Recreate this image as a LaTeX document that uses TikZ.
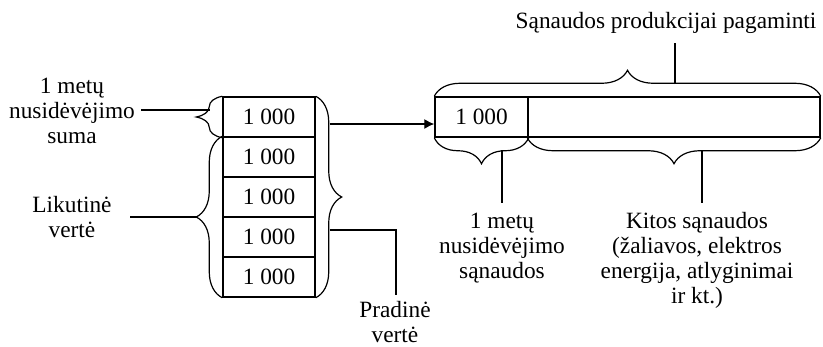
\documentclass[tikz,border=0pt]{standalone}
\usepackage{fontspec}
\setmainfont{Liberation Serif}
\usetikzlibrary{decorations.pathreplacing,arrows.meta}
\begin{document}
\begin{tikzpicture}[x=0.75pt,y=-0.75pt,line width=0.9pt,
  txt/.style={font=\fontsize{17.5}{18.75}\selectfont},
  cell/.style={draw,line width=1.1pt,inner sep=0pt,minimum height=30pt,txt},
  lbl/.style={align=center,inner sep=0pt,txt},
  brc/.style={decorate,decoration={brace,amplitude=19.5pt}},
  arr/.style={-{Latex[length=7.5pt,width=7.5pt]}}]
\useasboundingbox (0,0) rectangle (823,346);
% left column
\node[cell,minimum width=69pt] (r1) at (269,117) {1 000};
\node[cell,minimum width=69pt] (r2) at (269,157) {1 000};
\node[cell,minimum width=69pt] (r3) at (269,197) {1 000};
\node[cell,minimum width=69pt] (r4) at (269,237) {1 000};
\node[cell,minimum width=69pt] (r5) at (269,277) {1 000};
% right bar
\node[cell,minimum width=69.75pt] (a) at (481.5,117) {1 000};
\node[cell,minimum width=219pt] (b) at (674,117) {};
% braces
\draw[brc] (r1.south west) -- (r1.north west);
\draw[brc] (r5.south west) -- (r2.north west);
\draw[brc] (r1.north east) -- (r5.south east);
\draw[brc] (a.north west) -- (b.north east);
\draw[brc] (a.south east) -- (a.south west);
\draw[brc] (b.south east) -- (b.south west);
% labels
\node[lbl] (l1) at (72,111) {1 metų\\nusidėvėjimo\\suma};
\node[lbl] (l2) at (72,217) {Likutinė\\vertė};
\node[lbl] (l3) at (395,322.5) {Pradinė\\vertė};
\node[lbl,anchor=base] (l4) at (666,28.3) {Sąnaudos produkcijai pagaminti};
\node[lbl] (l5) at (502,248) {1 metų\\nusidėvėjimo\\sąnaudos};
\node[lbl] (l6) at (697,260) {Kitos sąnaudos\\(žaliavos, elektros\\energija, atlyginimai\\ir kt.)};
% connector points
\coordinate (c1s) at (141,110);
\coordinate (c1e) at (209.5,110);
\coordinate (c2s) at (130,217);
\coordinate (c2e) at (197,217);
\coordinate (as) at (329.5,124);
\coordinate (ps) at (329.5,230);
\coordinate (pe) at (396,295);
\coordinate (ts) at (675,84);
\coordinate (te) at (675,43);
\coordinate (bls) at (502,150);
\coordinate (ble) at (502,203);
\coordinate (brs) at (702,150);
\coordinate (bre) at (702,203);
% connectors
\draw (c1s) -- (c1e);
\draw (c2s) -- (c2e);
\draw[arr] (as) -- (as -| a.west);
\draw (ps) -| (pe);
\draw (ts) -- (te);
\draw (bls) -- (ble);
\draw (brs) -- (bre);
\end{tikzpicture}
\end{document}
